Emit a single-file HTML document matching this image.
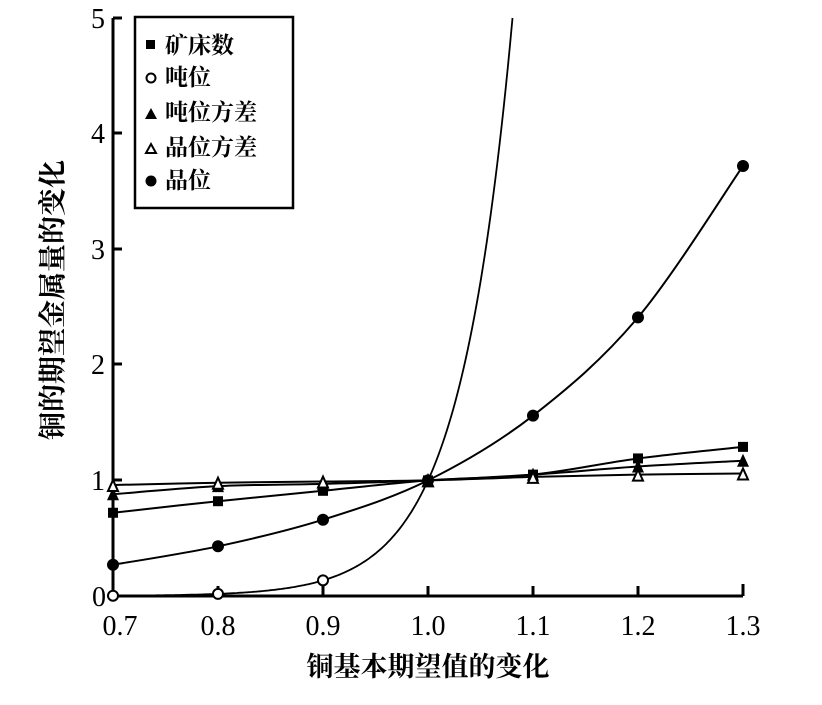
<!DOCTYPE html>
<html><head><meta charset="utf-8"><style>
body{margin:0;background:#fff}
svg text{font-family:"Liberation Serif","Noto Serif CJK SC",serif;fill:#000}
.cj{font-family:"Noto Serif CJK SC","Noto Sans CJK SC",serif;font-weight:bold}
</style></head><body>
<svg id="s" width="822" height="700" viewBox="0 0 822 700" xmlns="http://www.w3.org/2000/svg">
<g stroke="#000" stroke-width="3" fill="none">
<path d="M113 18 V596 H743"/>
<path d="M113 18 H122 M113 133 H122 M113 249 H122 M113 364 H122 M113 480 H122"/>
<path d="M218 596 V586 M323 596 V586 M428 596 V586 M533 596 V586 M638 596 V586 M743 596 V584"/>
<rect x="135" y="17" width="158" height="191" stroke-width="2.5"/>
</g>
<g font-size="28">
<text x="105" y="28" text-anchor="end">5</text>
<text x="105" y="143" text-anchor="end">4</text>
<text x="105" y="259" text-anchor="end">3</text>
<text x="105" y="374" text-anchor="end">2</text>
<text x="105" y="490" text-anchor="end">1</text>
<text x="106" y="606" text-anchor="end">0</text>
<text x="120" y="635" text-anchor="middle">0.7</text>
<text x="218" y="635" text-anchor="middle">0.8</text>
<text x="323" y="635" text-anchor="middle">0.9</text>
<text x="428" y="635" text-anchor="middle">1.0</text>
<text x="533" y="635" text-anchor="middle">1.1</text>
<text x="638" y="635" text-anchor="middle">1.2</text>
<text x="743" y="635" text-anchor="middle">1.3</text>
</g>
<text class="cj" x="428" y="676" font-size="27" text-anchor="middle">铜基本期望值的变化</text>
<text class="cj" transform="translate(62,300) rotate(-90)" font-size="28" text-anchor="middle">铜的期望金属量的变化</text>
<g class="cj" font-size="23">
<text x="165" y="53">矿床数</text>
<text x="165" y="85">吨位</text>
<text x="165" y="120">吨位方差</text>
<text x="165" y="155">品位方差</text>
<text x="165" y="188">品位</text>
</g>
<rect x="146" y="40" width="9" height="9" fill="#000"/>
<circle cx="151" cy="78" r="4.5" fill="none" stroke="#000" stroke-width="2"/>
<path d="M145 119 L151 108 L157 119Z" fill="#000"/>
<path d="M146 153 L151 144 L156 153Z" fill="none" stroke="#000" stroke-width="2"/>
<circle cx="151" cy="181" r="5.5" fill="#000"/>
<g id="g"></g>
</svg>
<script>
var X=function(v){return 113+(v-0.7)/0.1*105},Y=function(v){return 596-v*115.6};
var xs=[0.7,0.8,0.9,1.0,1.1,1.2,1.3];
function cr(pts){var d="M"+pts[0][0]+" "+pts[0][1];for(var i=0;i<pts.length-1;i++){var p0=pts[i-1]||pts[i],p1=pts[i],p2=pts[i+1],p3=pts[i+2]||p2;d+=" C"+(p1[0]+(p2[0]-p0[0])/6)+" "+(p1[1]+(p2[1]-p0[1])/6)+" "+(p2[0]-(p3[0]-p1[0])/6)+" "+(p2[1]-(p3[1]-p1[1])/6)+" "+p2[0]+" "+p2[1];}return d;}
var g=document.getElementById("g"),h="";
function ser(vals,mk){var p=xs.map(function(x,i){return [X(x),Y(vals[i])]});h+='<path d="'+cr(p)+'" fill="none" stroke="#000" stroke-width="2"/>';p.forEach(function(q){h+=mk(q[0],q[1]);});}
ser([0.72,0.82,0.91,1,1.05,1.19,1.29],function(x,y){return '<rect x="'+(x-5)+'" y="'+(y-5)+'" width="10" height="10"/>'});
ser([0.88,0.95,0.97,1,1.05,1.12,1.17],function(x,y){return '<path d="M'+(x-6)+' '+(y+6)+' L'+x+' '+(y-7)+' L'+(x+6)+' '+(y+6)+'Z"/>'});
ser([0.96,0.98,0.99,1,1.03,1.05,1.06],function(x,y){return '<path d="M'+(x-5)+' '+(y+6)+' L'+x+' '+(y-5)+' L'+(x+5)+' '+(y+6)+'Z" fill="#fff" stroke="#000" stroke-width="2"/>'});
ser([0.27,0.43,0.66,1,1.56,2.41,3.72],function(x,y){return '<circle cx="'+x+'" cy="'+y+'" r="6"/>'});
var k=20,xe=1+Math.log(5)/k,d="";for(var x=0.7;x<xe;x+=0.002){var v=Math.exp(k*(x-1));d+=(d?" L":"M")+X(x).toFixed(1)+" "+Y(v).toFixed(1);}
d+=" L"+X(xe).toFixed(1)+" "+Y(5).toFixed(1);
h+='<path d="'+d+'" fill="none" stroke="#000" stroke-width="1.8"/>';
[0.7,0.8,0.9].forEach(function(x){h+='<circle cx="'+X(x)+'" cy="'+Y(Math.exp(k*(x-1)))+'" r="5" fill="#fff" stroke="#000" stroke-width="2"/>'});
g.innerHTML=h;
</script>
</body></html>
